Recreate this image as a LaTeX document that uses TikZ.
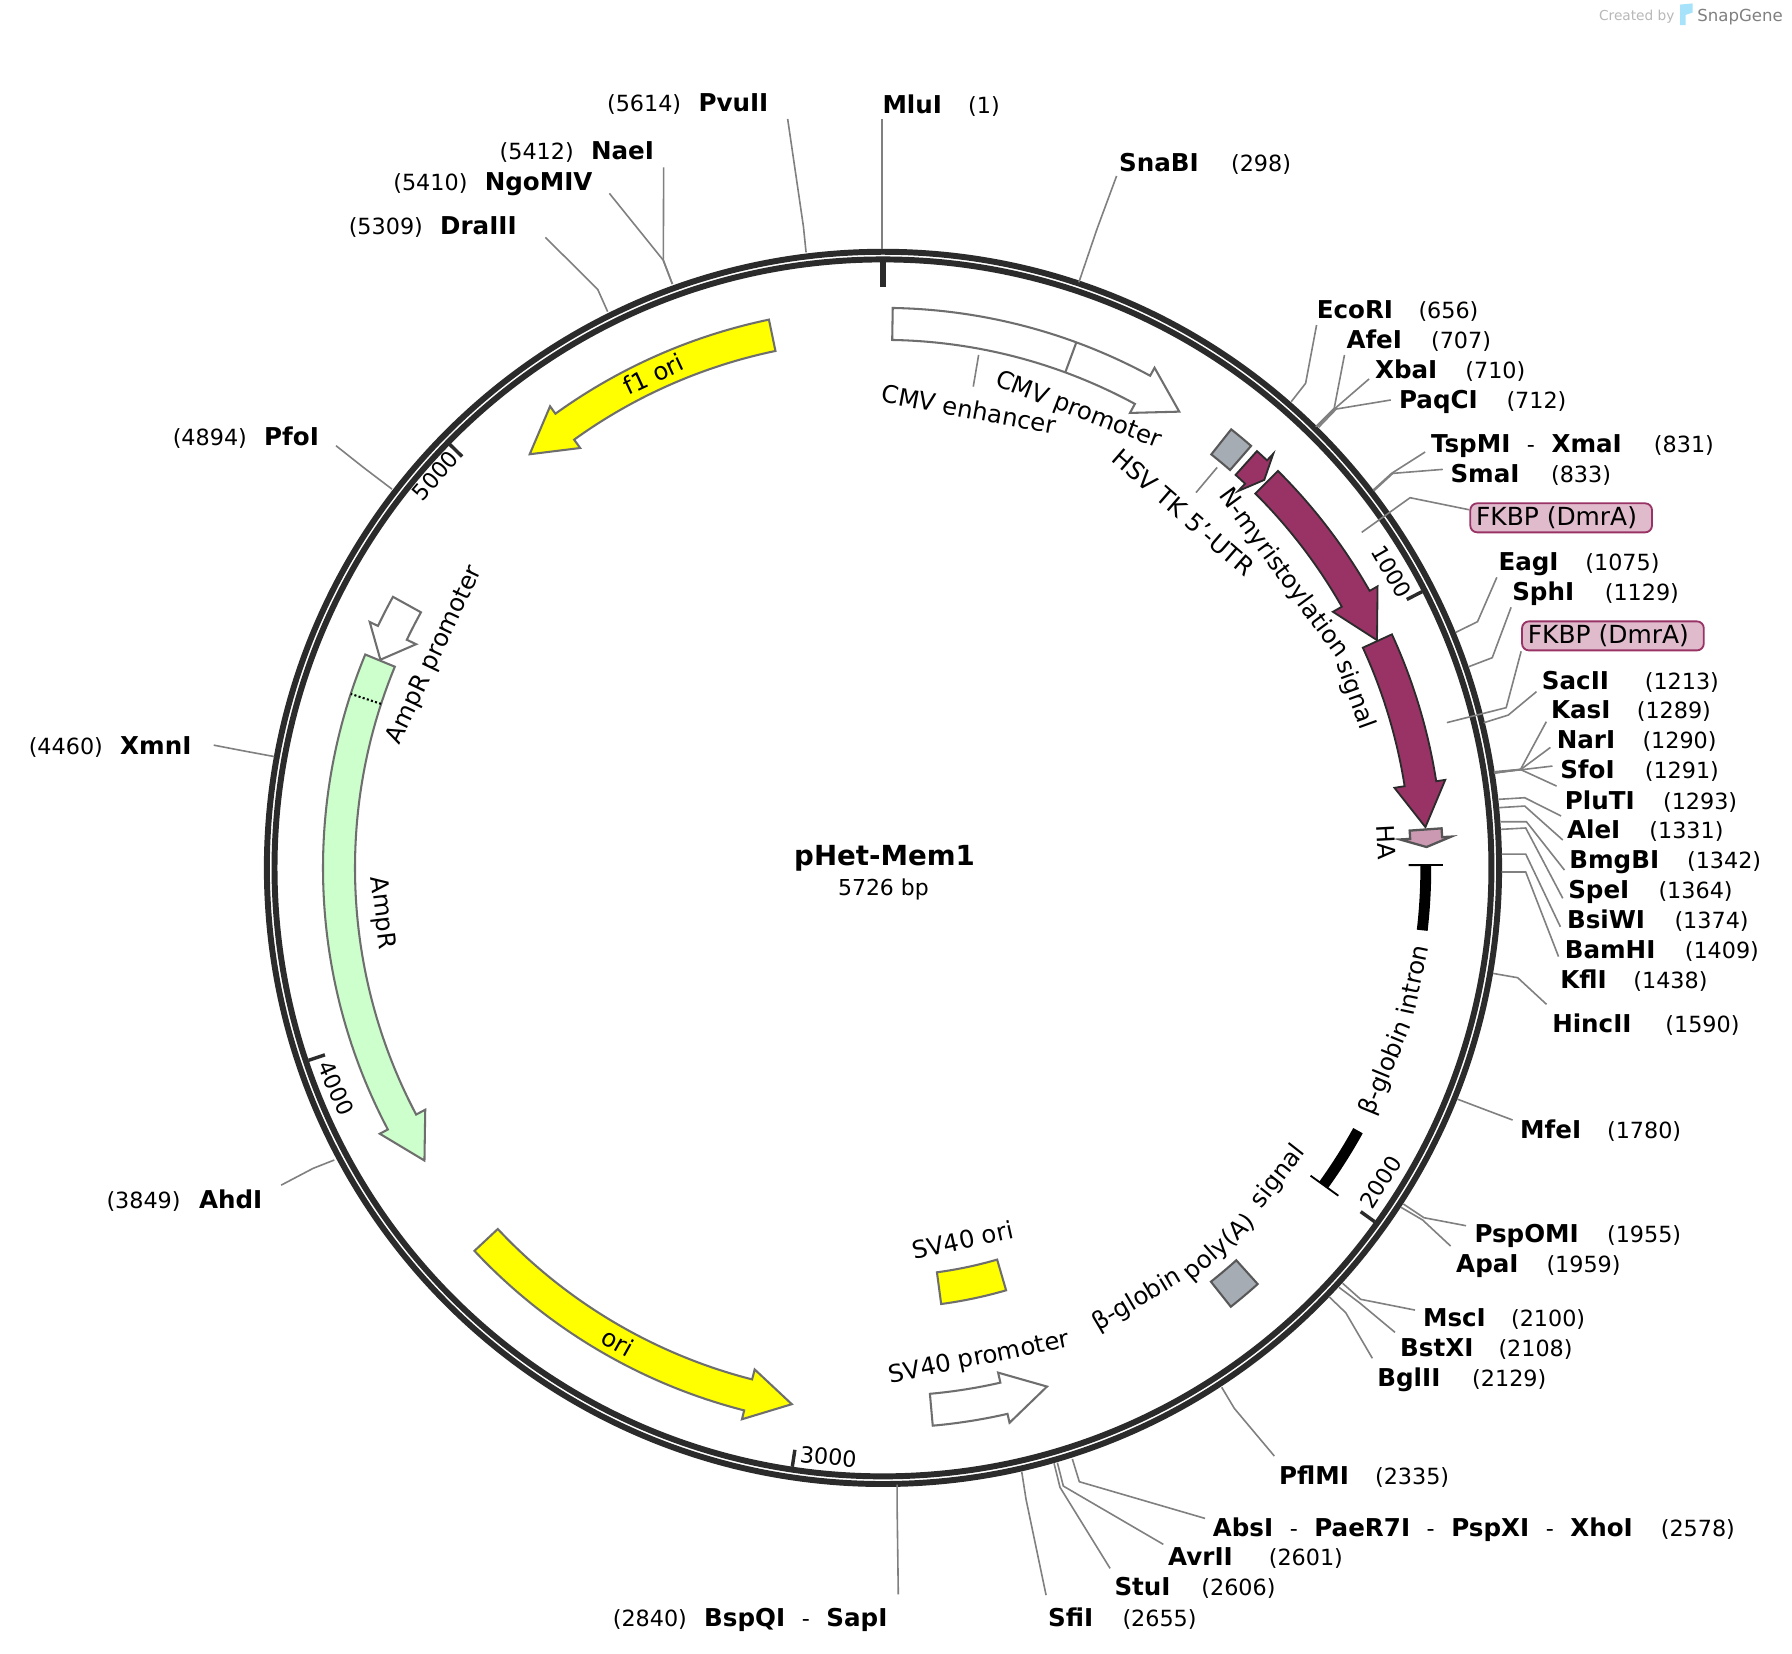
\documentclass[tikz,border=0pt]{standalone}
\usepackage{fontspec}
\setmainfont{DejaVu Sans}

\definecolor{ringgray}{HTML}{2B2B2B}
\definecolor{leadgray}{HTML}{808080}
\definecolor{edgegray}{HTML}{6E6E6E}
\definecolor{termgray}{HTML}{A6ACB3}
\definecolor{fkbpred}{HTML}{993366}
\definecolor{fkbppale}{HTML}{DFBBCC}
\definecolor{hapink}{HTML}{CC99B2}
\definecolor{amppale}{HTML}{CCFFCC}
\definecolor{oriyellow}{HTML}{FFFF00}

\tikzset{
    ringline/.style = {draw = ringgray, line width = 5.2},
    leader/.style = {draw = leadgray, line width = 1.4},
    openfeat/.style = {draw = edgegray, line width = 1.8, fill = white, line join = miter},
    orifeat/.style = {draw = edgegray, line width = 1.8, fill = oriyellow},
    ampfeat/.style = {draw = edgegray, line width = 1.8, fill = amppale},
    fkbpfeat/.style = {draw = ringgray, line width = 1.6, fill = fkbpred},
    hafeat/.style = {draw = ringgray!80, line width = 2, fill = hapink},
    termfeat/.style = {draw = edgegray!80!black, line width = 1.8, fill = termgray},
    tickmark/.style = {draw = ringgray, line width = 3},
    sitename/.style = {anchor = base west, inner sep = 0, font = \fontsize{21.5}{26}\bfseries\selectfont},
    sitenum/.style = {anchor = base west, inner sep = 0, font = \fontsize{19.5}{24}\selectfont},
    featlabel/.style = {inner sep = 0, font = \fontsize{21.3}{26}\selectfont},
    ticklabel/.style = {inner sep = 0, font = \fontsize{19.5}{24}\selectfont},
    fkbpbox/.style = {draw = fkbpred, line width = 1.6, fill = fkbppale, rounded corners = 6,
        minimum width = 159, minimum height = 25.4, inner sep = 0, font = \fontsize{21.8}{26}\selectfont}
}

\newcommand{\dashsep}{\hspace{14.5pt}{\mdseries\fontsize{19.5}{24}\selectfont -}\hspace{14.5pt}}

% start, end of body, tip (degrees clockwise from the top)
\newcommand{\featarrow}[4]{
    \draw [#1] ({#2-90}:462) arc [start angle = {#2-90}, end angle = {#3-90}, radius = 462]
        -- ({#3-90}:453) -- ({#4-90}:476) -- ({#3-90}:498) -- ({#3-90}:490)
        arc [start angle = {#3-90}, end angle = {#2-90}, radius = 490] -- cycle;
}
\newcommand{\featblock}[5]{
    \draw [#1] ({#2-90}:#4) arc [start angle = {#2-90}, end angle = {#3-90}, radius = #4]
        -- ({#3-90}:#5) arc [start angle = {#3-90}, end angle = {#2-90}, radius = #5] -- cycle;
}

\begin{document}
\begin{tikzpicture}[x = 1pt, y = -1pt]
    \useasboundingbox (0, 0) rectangle (1568, 1447.25);
    \fill [white] (0, 0) rectangle (1568, 1447.25);

    % features and ring, polar round the centre
    \begin{scope}[shift = {(772.6, 759.4)}]
        \draw [ringline] (0, 0) circle [radius = 539.1];
        \draw [ringline] (0, 0) circle [radius = 532.4];

        \foreach \tickpos in {62.87, 125.74, 188.61, 251.48, 314.35} {
            \draw [tickmark] ({\tickpos-90}:530) -- ({\tickpos-90}:515);
        }
        \draw [tickmark, line width = 5] (-90:530) -- (-90:508);

        \featarrow{openfeat}{1}{28.5}{33}
        \draw [draw = edgegray, line width = 1.8] (-69.8:462) -- (-69.8:490);
        \featblock{termfeat}{38.45}{41.1}{462}{490}
        \featarrow{fkbpfeat}{41.9}{43.3}{44.5}
        \featarrow{fkbpfeat}{44.85}{60.35}{65.25}
        \featarrow{fkbpfeat}{65.35}{81.1}{85.7}
        \featarrow{hafeat}{85.95}{86.85}{87.8}

        \draw [line width = 9.5] (-0.3:475) arc [start angle = -0.3, end angle = 6.6, radius = 475];
        \draw [line width = 9.5] (28.95:475) arc [start angle = 28.95, end angle = 35.75, radius = 475];
        \draw [line width = 1.6] (-0.3:460) -- (-0.3:490);
        \draw [line width = 1.6] (35.75:461) -- (35.75:491);

        \featblock{termfeat}{138}{141.6}{462}{490}
        \featarrow{openfeat}{174.9}{167.15}{162.45}
        \featblock{orifeat}{163.75}{172.4}{357}{385}
        \featarrow{orifeat}{226.85}{194.35}{189.65}
        \featarrow{ampfeat}{292.4}{242.15}{237.45}
        \draw [dotted, line width = 1.8] (198.1:462) -- (198.1:490);
        \featarrow{openfeat}{298.95}{295.6}{292.5}
        \featarrow{orifeat}{348.25}{324.2}{319.5}
    \end{scope}

    % restriction sites
    \foreach \id/\name/\nx/\ny/\px/\num/\ax/\ay/\bx/\by/\cx/\cy in {
        mlu/MluI/772/91/847/(1)/772/218/772/160/772/104,
        sna/SnaBI/979/142/1077/(298)/944/247/960/200/977/154,
        eco/EcoRI/1152/271/1241/(656)/1129.8/351.5/1142.4/335.4/1152/284.4,
        afe/AfeI/1178/297/1252/(707)/1151.3/373.3/1167.4/357.3/1176.4/310.6,
        xba/XbaI/1203/323/1282/(710)/1152.4/373.3/1168.2/357.3/1197.9/331.6,
        paq/PaqCI/1224/349.5/1318/(712)/1153.8/373.9/1169.2/357.9/1216.9/350,
        tsp/{TspMI\dashsep XmaI}/1252/388/1447/(831)/1201.5/428.8/1217.6/414.2/1247/395.5,
        sma/SmaI/1269/414/1357/(833)/1202.2/429.4/1218.7/414.2/1262.4/410.7,
        eag/EagI/1311/491/1387/(1075)/1273.8/553.3/1292.8/544/1309.7/505.2,
        sph/SphI/1323/517/1404/(1129)/1285/583.4/1305.7/575.5/1322.2/531.4,
        sac/SacII/1349/595/1439/(1213)/1298.2/632.4/1319.7/625.7/1344.4/605.2,
        kas/KasI/1357/621/1432/(1289)/1307.2/675.3/1330.5/673.2/1353/631.5,
        nar/NarI/1362/647/1437/(1290)/1307.2/675.8/1330.5/673.4/1356.6/654,
        sfo/SfoI/1365/673/1439/(1291)/1307.2/676.2/1330.5/673.6/1358.4/670.3,
        plu/PluTI/1369/700/1455/(1293)/1307.5/676.6/1330.2/673.2/1362/687.8,
        ale/AleI/1371/726/1443/(1331)/1311.4/699.4/1334.1/698/1365.9/714,
        bmg/BmgBI/1373/752/1476/(1342)/1311.4/706.7/1334.1/705.3/1367.4/735,
        spe/SpeI/1372/778/1451/(1364)/1313/719/1335.6/719/1368.9/761.3,
        bsi/BsiWI/1371/804/1465/(1374)/1313/725.7/1335/724.5/1367.4/786,
        bam/BamHI/1369/831/1474/(1409)/1313.8/747.3/1335/747.3/1365.3/810.9,
        kfl/KflI/1365/857/1429/(1438)/1313.8/763/1335/763/1363.7/837,
        hinc/HincII/1358/895/1457/(1590)/1306.3/851.7/1328/855.5/1353.2/878.8,
        mfe/MfeI/1330/988/1406/(1780)/1275.1/961.7/1299.3/970.9/1323.5/980,
        psp/PspOMI/1290/1079/1406/(1955)/1227.9/1053.5/1246/1065.5/1282.8/1072.5,
        apa/ApaI/1274/1105/1353/(1959)/1225.9/1056.4/1244.8/1067.5/1269.3/1090.3,
        msc/MscI/1245/1153/1322/(2100)/1174.8/1122.9/1190.6/1136.9/1238.1/1146.3,
        bst/BstXI/1225/1179/1311/(2108)/1171.6/1126.4/1189.4/1139.8/1220.6/1165.8,
        bgl/BglII/1205/1205/1288/(2129)/1162.9/1134.6/1177.5/1148.6/1200.8/1188.5,
        pfl/PflMI/1119/1291/1203/(2335)/1069/1213.9/1080/1232.3/1115/1274,
        abs/{AbsI\dashsep PaeR7I\dashsep PspXI\dashsep XhoI}/1061/1336/1453/(2578)/938.3/1276.6/944.4/1296.5/1054.4/1328.6,
        avr/AvrII/1022/1362/1110/(2601)/925.2/1279.8/930.4/1300.3/1017.9/1351.3,
        stu/StuI/975/1388/1051/(2606)/922.3/1280.4/927.5/1301.4/971.3/1372.3,
        sfi/SfiI/917/1415/982/(2655)/894/1287.7/897.8/1312/915.3/1395.7,
        bsp/{BspQI\dashsep SapI}/616/1415/536/(2840)/785/1299/785/1320/786/1395,
        ahd/AhdI/174/1049/93/(3849)/292.5/1015/274/1022.3/246/1037,
        xmn/XmnI/105/652/25/(4460)/240/662/213/657/187/652,
        pfo/PfoI/231/382/151/(4894)/343/428/318/409/294/390,
        dra/DraIII/385/197/305/(5309)/531.7/272.7/523/253.2/477.2/207.7,
        ngo/NgoMIV/424/159/344/(5410)/588.3/248.5/580.2/227.5/533.2/169.2,
        nae/NaeI/517/132/437/(5412)/588.3/248.5/580.4/227.5/580.7/146.4,
        pvu/PvuII/611/90/531/(5614)/705.3/220.8/703/198.3/689.2/104.1
    } {
        \coordinate (\id ring) at (\ax, \ay);
        \coordinate (\id bend) at (\bx, \by);
        \coordinate (\id end) at (\cx, \cy);
        \draw [leader] (\id ring) -- (\id bend) -- (\id end);
        \node [sitename] (\id name) at (\nx, {\ny+8}) {\name};
        \node [sitenum] (\id num) at (\px, {\ny+8}) {\num};
    }

    % centre
    \node [inner sep = 0, font = \fontsize{24.2}{28}\bfseries\selectfont] (title) at (774, 751) {pHet-Mem1};
    \node [inner sep = 0, font = \fontsize{19.2}{24}\selectfont] (length) at (773, 778) {5726 bp};

    % tick numbers
    \node [ticklabel, rotate = -60] (tickone) at (1217.7, 500.2) {1000};
    \node [ticklabel, rotate = 57.6] (ticktwo) at (1208.1, 1034) {2000};
    \node [ticklabel, rotate = -5.3] (tickthree) at (724.8, 1274.6) {3000};
    \node [ticklabel, rotate = -66] (tickfour) at (294, 952.3) {4000};
    \node [ticklabel, rotate = 49] (tickfive) at (381, 416) {5000};

    % feature names
    \node [featlabel, rotate = -10.5] (cmvenh) at (848, 358) {CMV enhancer};
    \node [featlabel, rotate = -21] (cmvpro) at (943.5, 359.5) {CMV promoter};
    \node [featlabel, rotate = -41] (hsvutr) at (1035.5, 448.5) {HSV TK 5'-UTR};
    \node [featlabel, rotate = -53.8] (myrone) at (1122.6, 501.7) {N-myristoylation};
    \node [featlabel, rotate = -70.1] (myrtwo) at (1185.4, 608.1) {signal};
    \node [featlabel, rotate = -87] (hatag) at (1212.8, 737) {HA};
    \node [featlabel, rotate = 77.9] (introntwo) at (1236, 857.6) {intron};
    \node [featlabel, rotate = 67.7] (intronone) at (1213, 935) {β-globin};
    \node [featlabel, rotate = 52] (polythree) at (1118.6, 1029.6) {signal};
    \node [featlabel, rotate = 41.6] (polytwo) at (1067.5, 1092) {poly(A)};
    \node [featlabel, rotate = 30.8] (polyone) at (995, 1138) {β-globin};
    \node [featlabel, rotate = 12.5] (svori) at (842.3, 1085) {SV40 ori};
    \node [featlabel, rotate = 11.5] (svpro) at (856.9, 1188.6) {SV40 promoter};
    \node [featlabel, rotate = -29.2] (oritext) at (540.5, 1174.5) {ori};
    \node [featlabel, rotate = -83] (amptext) at (334, 799) {AmpR};
    \node [featlabel, rotate = 64.6] (amppro) at (380.6, 573.1) {AmpR promoter};
    \node [featlabel, rotate = 24.9] (fone) at (571.7, 327.3) {f1 ori};

    % feature leaders
    \coordinate (enhtop) at (856.3, 310.6);
    \coordinate (enhfoot) at (851.6, 338.3);
    \draw [leader] (enhtop) -- (enhfoot);
    \coordinate (utrtop) at (1065, 409);
    \coordinate (utrfoot) at (1046.5, 431);
    \draw [leader] (utrtop) -- (utrfoot);

    \node [fkbpbox] (fkbpone) at (1366, 453.1) {FKBP (DmrA)\hspace{8pt}\mbox{}};
    \coordinate (fkbponebend) at (1233.8, 435.5);
    \coordinate (fkbponeend) at (1191.5, 465.8);
    \draw [leader] (fkbpone.175) -- (fkbponebend) -- (fkbponeend);
    \node [fkbpbox] (fkbptwo) at (1411.3, 556.4) {FKBP (DmrA)\hspace{8pt}\mbox{}};
    \coordinate (fkbptwobend) at (1317.9, 619.2);
    \coordinate (fkbptwoend) at (1266, 632.3);
    \draw [leader] (fkbptwo.south west) -- (fkbptwobend) -- (fkbptwoend);

    % logo
    \node [anchor = base west, inner sep = 0, text = black!28, font = \fontsize{12}{14}\selectfont] (created) at (1399, 18) {Created by};
    \node [anchor = base west, inner sep = 0, text = black!50, font = \fontsize{14.5}{17}\selectfont] (snapgene) at (1485, 19) {SnapGene};
    \fill [cyan!35] (1470, 4) -- (1481, 3) -- (1481, 11) -- (1475, 13) -- (1475, 22) -- (1470, 22) -- cycle;
\end{tikzpicture}
\end{document}
